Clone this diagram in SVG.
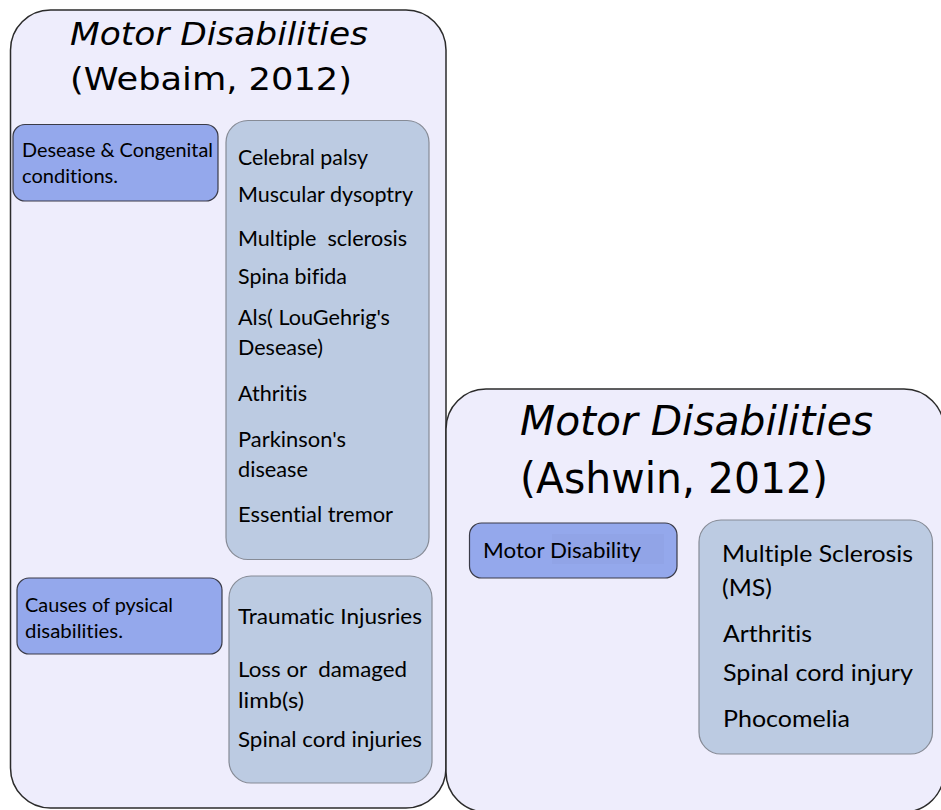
<svg xmlns="http://www.w3.org/2000/svg" width="941" height="810" viewBox="0 0 941 810">
  <defs>
    <style>
      .panel { fill: #eeedfc; stroke: #2b2b2b; stroke-width: 1.5; }
      .label { fill: #94a8ec; stroke: #3a3b48; stroke-width: 1.2; }
      .list  { fill: #bccbe2; stroke: #868b96; stroke-width: 1.2; }
      .title { font-family: "DejaVu Sans", Verdana, sans-serif; fill: #000; }
      .ti    { font-style: italic; }
      .item  { font-family: Lato, "Open Sans", "Liberation Sans", sans-serif; fill: #000;
               font-variant-ligatures: none; font-feature-settings: "liga" 0, "clig" 0; }
    </style>
  </defs>
  <rect width="941" height="810" fill="#ffffff"/>

  <!-- Webaim panel -->
  <g id="panel-webaim">
    <rect class="panel" x="10.5" y="10" width="435.5" height="798" rx="40" ry="40"/>
    <text class="title ti" x="70" y="45" font-size="32" textLength="298" lengthAdjust="spacingAndGlyphs">Motor Disabilities</text>
    <text class="title" x="70" y="90" font-size="32" textLength="282" lengthAdjust="spacingAndGlyphs">(Webaim, 2012)</text>
  </g>

  <!-- Ashwin panel (drawn over the shared edge) -->
  <g id="panel-ashwin">
    <rect class="panel" x="446" y="389" width="498" height="423" rx="40" ry="40"/>
    <text class="title ti" x="520" y="435" font-size="41" textLength="353" lengthAdjust="spacingAndGlyphs">Motor Disabilities</text>
    <text class="title" x="520" y="493" font-size="42" textLength="308" lengthAdjust="spacingAndGlyphs">(Ashwin, 2012)</text>
  </g>

  <g id="label-congenital">
    <rect class="label" x="13" y="124.5" width="205" height="76.5" rx="12" ry="12"/>
    <text class="item" x="22" y="157" font-size="19.5" textLength="191" lengthAdjust="spacingAndGlyphs">Desease &amp; Congenital</text>
    <text class="item" x="22" y="183" font-size="19.5" textLength="96" lengthAdjust="spacingAndGlyphs">conditions.</text>
  </g>

  <g id="list-congenital">
    <rect class="list" x="226" y="120.5" width="203" height="439" rx="22" ry="22"/>
    <text class="item" x="238" y="165" font-size="21.5" textLength="130" lengthAdjust="spacingAndGlyphs">Celebral palsy</text>
    <text class="item" x="238" y="202" font-size="21.5" textLength="175" lengthAdjust="spacingAndGlyphs">Muscular dysoptry</text>
    <text class="item" x="238" y="246" font-size="21.5" textLength="169" lengthAdjust="spacingAndGlyphs" xml:space="preserve">Multiple  sclerosis</text>
    <text class="item" x="238" y="284" font-size="21.5" textLength="109" lengthAdjust="spacingAndGlyphs">Spina bifida</text>
    <text class="item" x="238" y="325" font-size="21.5" textLength="152" lengthAdjust="spacingAndGlyphs">Als( LouGehrig's</text>
    <text class="item" x="238" y="355" font-size="21.5" textLength="85" lengthAdjust="spacingAndGlyphs">Desease)</text>
    <text class="item" x="238" y="401" font-size="21.5" textLength="69" lengthAdjust="spacingAndGlyphs">Athritis</text>
    <text class="item" x="238" y="447" font-size="21.5" textLength="108" lengthAdjust="spacingAndGlyphs">Parkinson's</text>
    <text class="item" x="238" y="477" font-size="21.5" textLength="70" lengthAdjust="spacingAndGlyphs">disease</text>
    <text class="item" x="238" y="522" font-size="21.5" textLength="155" lengthAdjust="spacingAndGlyphs">Essential tremor</text>
  </g>

  <g id="label-causes">
    <rect class="label" x="17" y="578" width="205" height="76" rx="12" ry="12"/>
    <text class="item" x="25" y="612" font-size="19.5" textLength="148" lengthAdjust="spacingAndGlyphs">Causes of pysical</text>
    <text class="item" x="25" y="638" font-size="19.5" textLength="98" lengthAdjust="spacingAndGlyphs">disabilities.</text>
  </g>

  <g id="list-causes">
    <rect class="list" x="229" y="576" width="203" height="207" rx="22" ry="22"/>
    <text class="item" x="238" y="624" font-size="21.5" textLength="184" lengthAdjust="spacingAndGlyphs">Traumatic Injusries</text>
    <text class="item" x="238" y="677" font-size="21.5" textLength="169" lengthAdjust="spacingAndGlyphs" xml:space="preserve">Loss or  damaged</text>
    <text class="item" x="238" y="708" font-size="21.5" textLength="66" lengthAdjust="spacingAndGlyphs">limb(s)</text>
    <text class="item" x="238" y="747" font-size="21.5" textLength="184" lengthAdjust="spacingAndGlyphs">Spinal cord injuries</text>
  </g>

  <g id="label-motor">
    <rect class="label" x="469.5" y="523" width="207.5" height="55" rx="12" ry="12"/>
    <rect x="552" y="534" width="112" height="30" fill="#91a4e7"/>
    <text class="item" x="483" y="558" font-size="21.5" textLength="158" lengthAdjust="spacingAndGlyphs">Motor Disability</text>
  </g>

  <g id="list-motor">
    <rect class="list" x="699" y="520" width="233.5" height="234" rx="22" ry="22"/>
    <text class="item" x="722" y="562" font-size="23.5" textLength="191" lengthAdjust="spacingAndGlyphs">Multiple Sclerosis</text>
    <text class="item" x="722" y="596" font-size="23.5" textLength="50" lengthAdjust="spacingAndGlyphs">(MS)</text>
    <text class="item" x="723" y="642" font-size="23.5" textLength="89" lengthAdjust="spacingAndGlyphs">Arthritis</text>
    <text class="item" x="723" y="681" font-size="23.5" textLength="190" lengthAdjust="spacingAndGlyphs">Spinal cord injury</text>
    <text class="item" x="723" y="727" font-size="23.5" textLength="127" lengthAdjust="spacingAndGlyphs">Phocomelia</text>
  </g>

  <!-- no connectors are drawn between the boxes -->
  <g id="connectors"/>
</svg>
